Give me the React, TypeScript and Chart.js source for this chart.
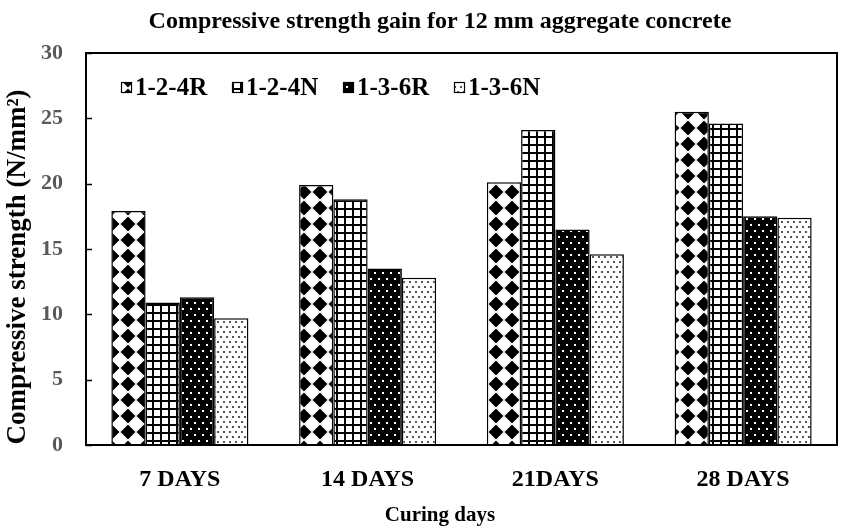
import React, { useEffect, useRef } from "react";
import { Chart, registerables } from "chart.js";

Chart.register(...registerables);

const categories = ["7 DAYS", "14 DAYS", "21DAYS", "28 DAYS"];
const seriesNames = ["1-2-4R", "1-2-4N", "1-3-6R", "1-3-6N"];
const s124R = [17.9, 19.9, 20.1, 25.5];
const s124N = [10.9, 18.8, 24.1, 24.6];
const s136R = [11.3, 13.5, 16.5, 17.5];
const s136N = [9.7, 12.8, 14.6, 17.4];
const yTicks = [0, 5, 10, 15, 20, 25, 30];
const titleText = "Compressive strength gain for 12 mm aggregate concrete";
const xTitleText = "Curing days";
const yTitleText = "Compressive strength (N/mm²)";

const FONT = "'Liberation Serif', 'Times New Roman', serif";

function makeTile(w: number, h: number, draw: (c: CanvasRenderingContext2D) => void) {
  const cv = document.createElement("canvas");
  cv.width = w;
  cv.height = h;
  const c = cv.getContext("2d")!;
  draw(c);
  const ctx = document.createElement("canvas").getContext("2d")!;
  return ctx.createPattern(cv, "repeat")!;
}

function patterns() {
  const harlequin = makeTile(16, 16, (c) => {
    c.fillStyle = "#000";
    c.fillRect(0, 0, 16, 16);
    c.fillStyle = "#fff";
    c.strokeStyle = "#fff";
    c.lineJoin = "round";
    c.lineWidth = 3;
    c.beginPath();
    c.moveTo(8, 1.5);
    c.lineTo(14.5, 8);
    c.lineTo(8, 14.5);
    c.lineTo(1.5, 8);
    c.closePath();
    c.fill();
    c.stroke();
  });
  const grid = makeTile(8, 8, (c) => {
    c.fillStyle = "#fff";
    c.fillRect(0, 0, 8, 8);
    c.fillStyle = "#000";
    c.fillRect(0, 0, 2, 8);
    c.fillRect(0, 0, 8, 2);
  });
  const darkDots = makeTile(8, 12, (c) => {
    c.fillStyle = "#000";
    c.fillRect(0, 0, 8, 12);
    c.fillStyle = "#fff";
    c.fillRect(2, 2, 2, 2);
    c.fillRect(6, 8, 2, 2);
  });
  const lightDots = makeTile(6, 10, (c) => {
    c.fillStyle = "#fff";
    c.fillRect(0, 0, 6, 10);
    c.fillStyle = "#555";
    c.fillRect(1, 1, 2, 2);
    c.fillRect(4, 6, 2, 2);
  });
  return [harlequin, grid, darkDots, lightDots];
}

export default function App() {
  const ref = useRef<HTMLCanvasElement | null>(null);

  useEffect(() => {
    document.body.style.margin = "0";
    const canvas = ref.current!;
    const pats = patterns();
    const values = [s124R, s124N, s136R, s136N];

    const decor = {
      id: "decor",
      afterDraw(chart: any) {
        const ctx = chart.ctx as CanvasRenderingContext2D;
        const a = chart.chartArea;
        const y = chart.scales.y;
        ctx.save();
        // frame
        ctx.strokeStyle = "#000";
        ctx.lineWidth = 2;
        ctx.strokeRect(a.left, a.top, a.right - a.left, a.bottom - a.top);
        // inward ticks
        ctx.lineWidth = 1.5;
        yTicks.forEach((t) => {
          const py = Math.round(y.getPixelForValue(t)) + 0.5;
          ctx.beginPath();
          ctx.moveTo(a.left, py);
          ctx.lineTo(a.left + 6, py);
          ctx.stroke();
        });
        // title
        ctx.fillStyle = "#000";
        ctx.textAlign = "center";
        ctx.textBaseline = "middle";
        ctx.font = `bold 24px ${FONT}`;
        ctx.fillText(titleText, 440, 22);
        // x title
        ctx.font = `bold 21px ${FONT}`;
        ctx.fillText(xTitleText, 440, 516);
        // y title
        ctx.save();
        ctx.translate(18, 267);
        ctx.rotate(-Math.PI / 2);
        ctx.font = `bold 27px ${FONT}`;
        ctx.fillText(yTitleText, 0, 0);
        ctx.restore();
        // legend
        ctx.textAlign = "left";
        ctx.font = `bold 25px ${FONT}`;
        let lx = 121;
        chart.data.datasets.forEach((ds: any) => {
          const by = 82;
          ctx.fillStyle = ds.backgroundColor;
          ctx.fillRect(lx, by, 11, 11);
          ctx.lineWidth = 1.2;
          ctx.strokeStyle = "#000";
          ctx.strokeRect(lx + 0.5, by + 0.5, 10, 10);
          ctx.fillStyle = "#000";
          ctx.fillText(ds.label, lx + 14, 89);
          lx += 111;
        });
        ctx.restore();
      },
    };

    const chart = new Chart(canvas, {
      type: "bar",
      data: {
        labels: categories,
        datasets: seriesNames.map((name, i) => ({
          label: name,
          data: values[i],
          backgroundColor: pats[i] as any,
          borderColor: "#000",
          borderWidth: 1.5,
          categoryPercentage: 0.73,
          barPercentage: 1,
        })),
      },
      options: {
        responsive: false,
        animation: false,
        layout: { padding: { top: 53, right: 4, left: 0, bottom: 0 } },
        plugins: {
          legend: { display: false },
          title: { display: false },
          tooltip: { enabled: false },
        },
        scales: {
          x: {
            grid: { display: true, drawOnChartArea: false, drawTicks: false },
            border: { display: true, color: "#000", width: 2 },
            ticks: {
              color: "#000",
              padding: 20,
              font: { family: FONT, weight: "bold", size: 24 },
            },
            afterFit: (s: any) => {
              s.height = 86;
            },
          },
          y: {
            min: 0,
            max: 30,
            grid: { display: true, drawOnChartArea: false, drawTicks: false },
            border: { display: true, color: "#000", width: 2 },
            ticks: {
              stepSize: 5,
              color: "#595959",
              padding: 23,
              font: { family: FONT, weight: "bold", size: 22 },
            },
            afterFit: (s: any) => {
              s.width = 86;
            },
          },
        },
      },
      plugins: [decor],
    });
    return () => chart.destroy();
  }, []);

  return <canvas ref={ref} width={841} height={531} style={{ display: "block" }} />;
}
